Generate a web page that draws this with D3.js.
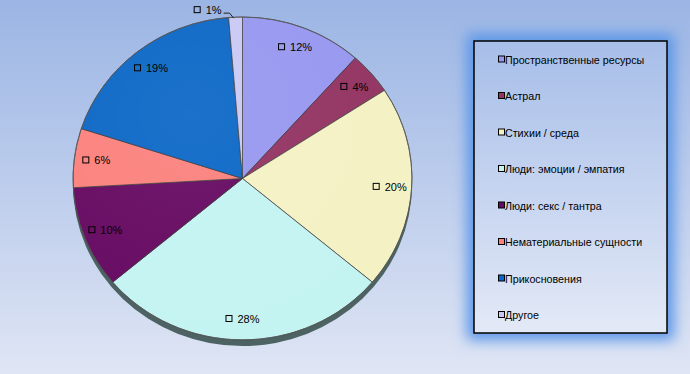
<!DOCTYPE html>
<html>
<head>
<meta charset="utf-8">
<script src="https://cdn.jsdelivr.net/npm/d3@7"></script>
<style>
  body { margin: 0; padding: 0; overflow: hidden; }
  svg { display: block; font-family: "Liberation Sans", Arial, sans-serif; }
</style>
</head>
<body>
<div id="pie_chart"></div>
<script>
// chart data (shares in %, labels show rounded values)
var categories = ["Пространственные ресурсы", "Астрал", "Стихии / среда", "Люди: эмоции / эмпатия",
                  "Люди: секс / тантра", "Нематериальные сущности", "Прикосновения", "Другое"];
var percentValues = [11.6, 4.2, 20.3, 27.8, 10.2, 5.9, 18.7, 1.3];
var sliceColors = ["#9797f0", "#933462", "#f4f2c4", "#c4f4f2", "#660a62", "#fb817d", "#0b67c6", "#c9c9f5"];

(function () {
  'use strict'
  drawPieChart("pie_chart");
})()

function drawPieChart(divIdStr){

  var width = 690, height = 374;
  var cx = 242.5, cy = 178.5, rx = 169.5, ry = 161.5;
  var labelK = 0.87;

  var svg = d3.select("#"+divIdStr).append("svg")
    .attr("width", width)
    .attr("height", height);

  var defs = svg.append("defs");

  var bgGrad = defs.append("linearGradient").attr("id", "bgGrad")
    .attr("x1", 0).attr("y1", 0).attr("x2", 0).attr("y2", 1);
  bgGrad.append("stop").attr("offset", "0%").attr("stop-color", "#9bb5e4");
  bgGrad.append("stop").attr("offset", "100%").attr("stop-color", "#dfe5f4");

  var lgGrad = defs.append("linearGradient").attr("id", "lgGrad")
    .attr("x1", 0).attr("y1", 0).attr("x2", 0).attr("y2", 1);
  lgGrad.append("stop").attr("offset", "0%").attr("stop-color", "#a7bee9");
  lgGrad.append("stop").attr("offset", "100%").attr("stop-color", "#e3e9f6");

  var glow = defs.append("filter").attr("id", "glow")
    .attr("x", "-30%").attr("y", "-30%").attr("width", "160%").attr("height", "160%");
  glow.append("feGaussianBlur").attr("stdDeviation", 7);

  var shade = defs.append("radialGradient").attr("id", "shade")
    .attr("cx", "35%").attr("cy", "30%").attr("r", "75%");
  shade.append("stop").attr("offset", "0%").attr("stop-color", "#ffffff").attr("stop-opacity", 0.07);
  shade.append("stop").attr("offset", "100%").attr("stop-color", "#ffffff").attr("stop-opacity", 0);

  svg.append("rect")
    .attr("width", width).attr("height", height)
    .attr("fill", "url(#bgGrad)");

  // pie
  var pie = d3.pie().sort(null).value(function(d){ return d; })
    .startAngle(0).endAngle(2 * Math.PI);
  var arcs = pie(percentValues);

  var arc = d3.arc().innerRadius(0).outerRadius(1);

  // 3d rim / shadow under the pie
  svg.append("ellipse")
    .attr("cx", cx).attr("cy", cy + 6)
    .attr("rx", rx).attr("ry", ry)
    .attr("fill", "#4d6363");

  var pieG = svg.append("g")
    .attr("transform", "translate(" + cx + "," + cy + ") scale(" + rx + "," + ry + ")");

  pieG.selectAll(".slice")
    .data(arcs)
    .enter().append("path")
    .attr("class", "slice")
    .attr("d", arc)
    .attr("fill", function(d, i){ return sliceColors[i]; })
    .attr("stroke", "#3a3a3a")
    .attr("stroke-width", 0.7)
    .attr("vector-effect", "non-scaling-stroke");

  pieG.append("circle")
    .attr("r", 1)
    .attr("fill", "url(#shade)")
    .attr("stroke", "#5a5a5a")
    .attr("stroke-width", 0.8)
    .attr("vector-effect", "non-scaling-stroke");

  // data labels
  var labelG = svg.append("g").attr("class", "pieLabels");
  arcs.forEach(function(d, i){
    var a = (d.startAngle + d.endAngle) / 2;
    var txt = Math.round(percentValues[i]) + "%";
    var g = labelG.append("g");
    var t = g.append("text")
      .attr("font-size", "11px")
      .attr("fill", "#000")
      .attr("dominant-baseline", "central")
      .text(txt);
    var tw = t.node().getComputedTextLength();
    var boxW = 7 + 5 + tw;
    var lx, ly;
    if (percentValues[i] < 2) {
      // outside label with leader line
      var px = cx + rx * Math.sin(a), py = cy - ry * Math.cos(a);
      lx = px - 14 - boxW;
      ly = py - 7;
      labelG.append("path")
        .attr("d", "M" + (px - 12) + "," + (py - 4) + "L" + (px - 6) + "," + (py - 4) + "L" + (px - 2) + "," + (py + 1))
        .attr("fill", "none")
        .attr("stroke", "#222")
        .attr("stroke-width", 1);
    } else {
      lx = cx + rx * labelK * Math.sin(a) - boxW / 2;
      ly = cy - ry * labelK * Math.cos(a);
    }
    g.insert("rect", "text")
      .attr("x", lx + 0.5).attr("y", ly - 3.5)
      .attr("width", 6).attr("height", 6)
      .attr("fill", "none")
      .attr("stroke", "#000")
      .attr("stroke-width", 1);
    t.attr("x", lx + 12).attr("y", ly);
  });

  // legend
  var lgX = 474, lgY = 41, lgW = 193, lgH = 292;
  svg.append("rect")
    .attr("x", lgX - 7).attr("y", lgY - 7)
    .attr("width", lgW + 14).attr("height", lgH + 14)
    .attr("fill", "#5a95e8")
    .attr("filter", "url(#glow)");
  svg.append("rect")
    .attr("x", lgX).attr("y", lgY)
    .attr("width", lgW).attr("height", lgH)
    .attr("fill", "url(#lgGrad)")
    .attr("stroke", "#000")
    .attr("stroke-width", 1.5);

  var ly = d3.scalePoint().domain(categories).range([lgY + 18.5, lgY + 274]);

  var items = svg.append("g").attr("class", "legend")
    .selectAll("g")
    .data(categories)
    .enter().append("g")
    .attr("transform", function(d){ return "translate(" + 498 + "," + ly(d) + ")"; });

  items.append("rect")
    .attr("x", 0.5).attr("y", -3.5)
    .attr("width", 6).attr("height", 6)
    .attr("fill", function(d, i){ return sliceColors[i]; })
    .attr("stroke", "#000")
    .attr("stroke-width", 1);

  items.append("text")
    .attr("x", 7)
    .attr("dominant-baseline", "central")
    .attr("font-size", "10.7px")
    .attr("fill", "#000")
    .text(function(d){ return d; });
}
</script>
</body>
</html>
